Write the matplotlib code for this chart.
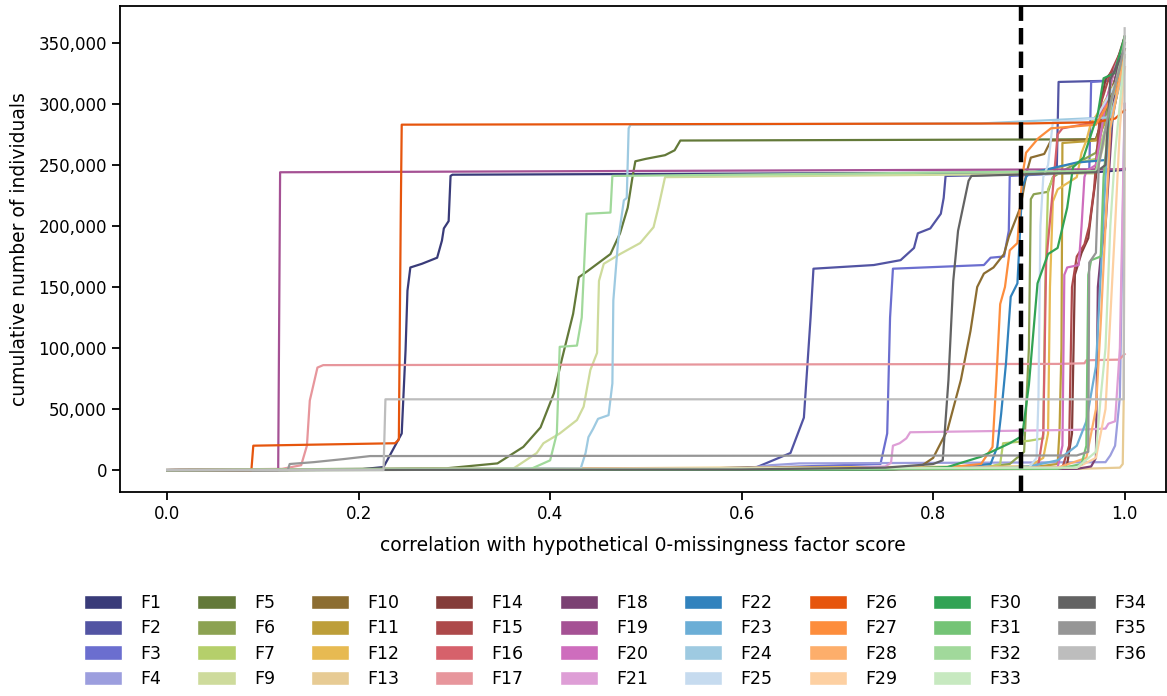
import matplotlib
matplotlib.use("Agg")
import matplotlib.pyplot as plt
from matplotlib.patches import Patch
from matplotlib.ticker import StrMethodFormatter

# (correlation, cumulative count) for every factor
f1 = [(0.0, 0), (0.20, 500), (0.226, 2500), (0.245, 30000), (0.249, 98000), (0.251, 147000),
      (0.254, 166000), (0.266, 169000), (0.282, 174000), (0.287, 188000), (0.289, 198000),
      (0.294, 204000), (0.296, 241000), (0.298, 242000), (0.97, 244000), (1.0, 246000)]
f2 = [(0.0, 0), (0.55, 1000), (0.616, 2500), (0.651, 14000), (0.665, 43000), (0.672, 125000),
      (0.675, 165000), (0.738, 168000), (0.766, 172000), (0.78, 182000), (0.784, 194000),
      (0.797, 198000), (0.808, 210000), (0.811, 223000), (0.813, 241000), (0.929, 243000),
      (0.931, 318000), (0.985, 319000), (0.99, 330000), (1.0, 345000)]
f3 = [(0.0, 0), (0.6, 1500), (0.745, 5000), (0.752, 30000), (0.755, 125000), (0.758, 165000),
      (0.853, 168000), (0.86, 174000), (0.874, 175000), (0.879, 196000), (0.880, 241000),
      (0.963, 244000), (0.965, 318000), (0.985, 319000), (0.99, 330000), (1.0, 350000)]
f4 = [(0.0, 0), (0.6, 1000), (0.63, 4000), (0.66, 5500), (0.98, 6500), (0.985, 12000),
      (0.99, 20000), (0.995, 60000), (1.0, 300000)]
f5 = [(0.0, 0), (0.292, 1500), (0.345, 5500), (0.372, 19000), (0.39, 35000), (0.404, 63000),
      (0.412, 90000), (0.424, 128000), (0.43, 158000), (0.439, 163000), (0.463, 177000),
      (0.473, 194000), (0.481, 215000), (0.486, 240000), (0.489, 253000), (0.5, 255000),
      (0.52, 258000), (0.53, 262000), (0.536, 270000), (0.97, 271000), (0.99, 320000), (1.0, 340000)]
f6 = [(0.0, 0), (0.7, 500), (0.85, 2000), (0.88, 5000), (0.895, 15000), (0.9, 100000),
      (0.902, 222000), (0.905, 226000), (0.92, 228000), (0.925, 240000), (0.935, 245000),
      (0.97, 260000), (0.99, 320000), (1.0, 345000)]
f7 = [(0.0, 0), (0.85, 1000), (0.87, 5000), (0.873, 22000), (0.9, 24000), (0.915, 26000),
      (0.917, 150000), (0.92, 230000), (0.93, 248000), (0.97, 255000), (1.0, 330000)]
f9 = [(0.0, 0), (0.362, 1500), (0.386, 14000), (0.393, 22000), (0.41, 30000), (0.428, 41000),
      (0.435, 52000), (0.442, 82000), (0.449, 96000), (0.451, 155000), (0.456, 169000),
      (0.473, 177000), (0.494, 186000), (0.508, 199000), (0.513, 215000), (0.52, 240000),
      (0.97, 243000), (1.0, 330000)]
f10 = [(0.0, 0), (0.759, 500), (0.787, 3000), (0.8, 10000), (0.815, 33000), (0.829, 74000),
       (0.839, 114000), (0.846, 150000), (0.853, 161000), (0.863, 166000), (0.874, 177000),
       (0.879, 191000), (0.891, 215000), (0.898, 245000), (0.902, 256000), (0.916, 259000),
       (0.923, 270000), (0.97, 271000), (0.99, 320000), (1.0, 355000)]
f11 = [(0.0, 0), (0.9, 2000), (0.93, 5000), (0.932, 33000), (0.934, 100000), (0.935, 268000),
       (0.97, 270000), (0.99, 300000), (1.0, 340000)]
f12 = [(0.0, 0), (0.9, 3000), (0.915, 10000), (0.92, 30000), (0.922, 150000), (0.925, 220000),
       (0.93, 230000), (0.95, 240000), (0.955, 260000), (0.96, 270000), (0.965, 285000),
       (0.97, 290000), (1.0, 330000)]
f13 = [(0.0, 0), (0.95, 1000), (0.995, 2000), (0.998, 5000), (0.999, 58000), (1.0, 300000)]
f14 = [(0.0, 0), (0.93, 1000), (0.94, 5000), (0.945, 30000), (0.948, 160000), (0.955, 178000),
       (0.962, 190000), (0.965, 210000), (0.97, 240000), (0.975, 300000), (0.98, 320000),
       (0.99, 330000), (1.0, 355000)]
f15 = [(0.0, 0), (0.935, 2000), (0.942, 20000), (0.945, 150000), (0.95, 175000), (0.958, 185000),
       (0.963, 200000), (0.968, 230000), (0.975, 300000), (0.985, 325000), (1.0, 350000)]
f16 = [(0.0, 0), (0.9, 1000), (0.91, 5000), (0.915, 30000), (0.918, 170000), (0.925, 230000),
       (0.93, 275000), (0.935, 280000), (0.97, 285000), (0.98, 300000), (0.99, 330000), (1.0, 350000)]
f17 = [(0.0, 0), (0.12, 1000), (0.14, 4000), (0.146, 20000), (0.149, 57000), (0.157, 84000),
       (0.163, 86000), (0.93, 87000), (0.958, 87500), (0.96, 90000), (0.994, 90500), (1.0, 95000)]
f18 = [(0.0, 0), (0.95, 1000), (0.965, 3000), (0.97, 10000), (0.972, 150000), (0.975, 175000),
       (0.98, 200000), (0.985, 260000), (0.99, 320000), (1.0, 355000)]
f19 = [(0.0, 0), (0.116, 0), (0.118, 244000), (0.996, 246500), (1.0, 247000)]
f20 = [(0.0, 0), (0.93, 2000), (0.935, 20000), (0.937, 160000), (0.94, 166000), (0.952, 168000),
       (0.955, 200000), (0.958, 240000), (0.96, 245000), (0.97, 250000), (0.98, 300000),
       (0.99, 330000), (1.0, 350000)]
f21 = [(0.0, 0), (0.7, 1000), (0.75, 3000), (0.756, 6000), (0.758, 20000), (0.765, 22000),
       (0.772, 26000), (0.776, 31000), (0.95, 33000), (0.98, 34000), (0.983, 38000),
       (0.99, 40000), (0.995, 100000), (1.0, 300000)]
f22 = [(0.0, 0), (0.8, 1000), (0.86, 5000), (0.867, 19000), (0.871, 46000), (0.876, 87000),
       (0.881, 142000), (0.888, 153000), (0.893, 231000), (0.897, 240000), (0.9, 243000),
       (0.95, 252000), (0.98, 254000), (0.99, 300000), (1.0, 340000)]
f23 = [(0.0, 0), (0.85, 1000), (0.9, 3000), (0.93, 8000), (0.95, 20000), (0.96, 40000),
       (0.97, 85000), (0.975, 160000), (0.98, 240000), (0.985, 300000), (1.0, 340000)]
f24 = [(0.0, 0), (0.432, 1500), (0.437, 14000), (0.44, 27000), (0.445, 34000), (0.45, 42000),
       (0.461, 45000), (0.465, 71000), (0.466, 139000), (0.471, 188000), (0.477, 221000),
       (0.48, 223000), (0.482, 280000), (0.484, 283000), (0.85, 284000), (0.93, 287000),
       (0.985, 289000), (1.0, 330000)]
f25 = [(0.0, 0), (0.9, 2000), (0.908, 10000), (0.91, 60000), (0.912, 200000), (0.915, 240000),
       (0.92, 250000), (0.925, 285000), (0.97, 288000), (1.0, 330000)]
f26 = [(0.0, 0), (0.088, 0), (0.09, 20000), (0.238, 22000), (0.242, 25000), (0.244, 210000),
       (0.245, 283000), (0.9, 284000), (0.97, 285000), (0.99, 288000), (1.0, 295000)]
f27 = [(0.0, 0), (0.8, 1000), (0.85, 5000), (0.862, 19000), (0.866, 74000), (0.87, 136000),
       (0.875, 150000), (0.88, 180000), (0.888, 186000), (0.893, 240000), (0.897, 260000),
       (0.91, 272000), (0.923, 280000), (0.97, 283000), (0.99, 310000), (1.0, 345000)]
f28 = [(0.0, 0), (0.93, 2000), (0.96, 10000), (0.97, 50000), (0.975, 120000), (0.98, 200000),
       (0.985, 280000), (0.99, 300000), (1.0, 340000)]
f29 = [(0.0, 0), (0.95, 2000), (0.97, 10000), (0.98, 50000), (0.99, 200000), (0.995, 280000),
       (1.0, 330000)]
f30 = [(0.0, 0), (0.75, 500), (0.815, 2500), (0.85, 11000), (0.88, 22000), (0.893, 28000),
       (0.9, 70000), (0.909, 153000), (0.92, 177000), (0.93, 182000), (0.94, 215000),
       (0.946, 248000), (0.957, 256000), (0.972, 292000), (0.978, 321000), (0.989, 325000),
       (1.0, 355000)]
f31 = [(0.0, 0), (0.93, 1000), (0.955, 5000), (0.96, 20000), (0.962, 160000), (0.965, 172000),
       (0.975, 175000), (0.978, 240000), (0.985, 300000), (0.995, 330000), (1.0, 355000)]
f32 = [(0.0, 0), (0.38, 1000), (0.4, 8000), (0.407, 30000), (0.41, 101000), (0.428, 102000),
       (0.433, 125000), (0.438, 210000), (0.463, 211000), (0.465, 241000), (0.97, 245000),
       (1.0, 350000)]
f33 = [(0.0, 0), (0.95, 2000), (0.97, 15000), (0.975, 60000), (0.98, 100000), (0.985, 200000),
       (0.99, 260000), (0.995, 300000), (1.0, 340000)]
f34 = [(0.0, 0), (0.6, 500), (0.75, 2000), (0.8, 5000), (0.81, 8000), (0.816, 74000),
       (0.821, 155000), (0.826, 196000), (0.837, 237000), (0.84, 241000), (0.97, 244000),
       (0.98, 250000), (0.985, 320000), (0.99, 328000), (1.0, 345000)]
f35 = [(0.0, 0), (0.126, 0), (0.128, 5000), (0.153, 6500), (0.184, 9000), (0.212, 11500),
       (0.95, 12000), (0.962, 15000), (0.963, 170000), (0.97, 178000), (0.973, 250000),
       (0.985, 300000), (0.995, 330000), (1.0, 350000)]
f36 = [(0.0, 0), (0.226, 0), (0.228, 58000), (0.999, 58000), (1.0, 362000)]

labels = ["F1", "F2", "F3", "F4", "F5", "F6", "F7", "F9", "F10", "F11", "F12", "F13",
          "F14", "F15", "F16", "F17", "F18", "F19", "F20", "F21", "F22", "F23", "F24", "F25",
          "F26", "F27", "F28", "F29", "F30", "F31", "F32", "F33", "F34", "F35", "F36"]
curves = [f1, f2, f3, f4, f5, f6, f7, f9, f10, f11, f12, f13, f14, f15, f16, f17, f18, f19,
          f20, f21, f22, f23, f24, f25, f26, f27, f28, f29, f30, f31, f32, f33, f34, f35, f36]
cutoff = 0.892

# palette: all of tab20b, then tab20c blues/oranges/greens and three greys
t20c = list(plt.get_cmap("tab20c").colors)
palette = list(plt.get_cmap("tab20b").colors) + t20c[:12] + t20c[16:19]

plt.rcParams["font.family"] = "DejaVu Sans"
plt.rcParams["font.size"] = 12

fig = plt.figure(figsize=(11.67, 6.96), dpi=100)
ax = fig.add_axes([0.103, 0.293, 0.896, 0.698])

for pts, lab, col in zip(curves, labels, palette):
    xs = [p[0] for p in pts]
    ys = [p[1] for p in pts]
    ax.plot(xs, ys, color=col, lw=1.6, label=lab)

ax.axvline(cutoff, color="black", ls="--", lw=3.2)

ax.set_xlim(-0.049, 1.043)
ax.set_ylim(-18000, 380000)
ax.set_xticks([0.0, 0.2, 0.4, 0.6, 0.8, 1.0])
ax.yaxis.set_major_formatter(StrMethodFormatter("{x:,.0f}"))
ax.tick_params(labelsize=12, length=6, width=1.3)
for s in ax.spines.values():
    s.set_linewidth(1.3)

ax.set_xlabel("correlation with hypothetical 0-missingness factor score", fontsize=13.5, labelpad=9)
ax.set_ylabel("cumulative number of individuals", fontsize=13.5, labelpad=7)

handles = [Patch(facecolor=c, edgecolor="white", label=l) for c, l in zip(palette, labels)]
fig.legend(handles=handles, loc="upper center", bbox_to_anchor=(0.527, 0.159), ncol=9,
           frameon=False, fontsize=12.5, handlelength=2.2, handleheight=0.9,
           handletextpad=1.05, columnspacing=2.07, labelspacing=0.42, borderpad=0)

fig.savefig("out.png", dpi=100)
